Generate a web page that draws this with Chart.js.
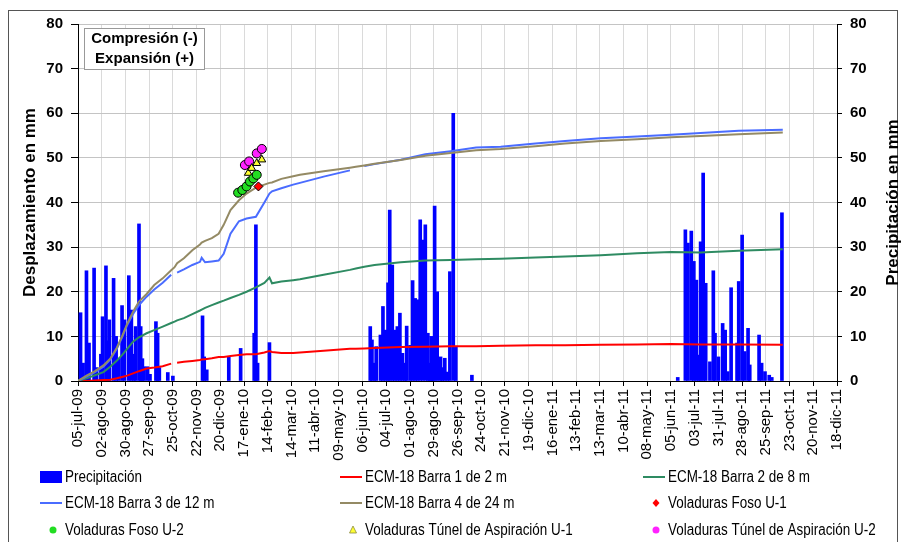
<!DOCTYPE html>
<html>
<head>
<meta charset="utf-8">
<script src="https://cdn.jsdelivr.net/npm/chart.js@4.4.0/dist/chart.umd.min.js"></script>
<style>
  html, body { margin: 0; padding: 0; background: #fff; }
  #wrap { width: 904px; height: 542px; }
</style>
</head>
<body>
<div id="wrap"><canvas id="grafico" width="904" height="542"></canvas></div>
<script>
// etiquetas del eje X (cada 28 dias)
const etiquetasX = ['05-jul-09','02-ago-09','30-ago-09','27-sep-09','25-oct-09','22-nov-09','20-dic-09',
  '17-ene-10','14-feb-10','14-mar-10','11-abr-10','09-may-10','06-jun-10','04-jul-10','01-ago-10',
  '29-ago-10','26-sep-10','24-oct-10','21-nov-10','19-dic-10','16-ene-11','13-feb-11','13-mar-11',
  '10-abr-11','08-may-11','05-jun-11','03-jul-11','31-jul-11','28-ago-11','25-sep-11','23-oct-11',
  '20-nov-11','18-dic-11'];

// precipitacion diaria (mm)
const fechasLluvia = ['2009-07-08','2009-07-11','2009-07-15','2009-07-18','2009-07-24','2009-07-27','2009-08-01',
  '2009-08-03','2009-08-07','2009-08-09','2009-08-11','2009-08-16','2009-08-19','2009-08-22','2009-08-26',
  '2009-08-29','2009-09-03','2009-09-06','2009-09-09','2009-09-11','2009-09-15','2009-09-17','2009-09-19',
  '2009-09-21','2009-09-25','2009-09-28','2009-10-05','2009-10-07','2009-10-09','2009-10-19','2009-10-25',
  '2009-11-29','2009-12-01','2009-12-04','2009-12-30','2010-01-13','2010-01-29','2010-01-31','2010-02-02',
  '2010-02-16',
  '2010-06-15','2010-06-17','2010-06-20','2010-06-22','2010-06-27','2010-06-30','2010-07-03','2010-07-06',
  '2010-07-08','2010-07-11','2010-07-14','2010-07-17','2010-07-20','2010-07-23','2010-07-26','2010-07-28',
  '2010-08-01','2010-08-04','2010-08-07','2010-08-10','2010-08-13','2010-08-16','2010-08-19','2010-08-22',
  '2010-08-24','2010-08-26','2010-08-28','2010-08-30','2010-09-02','2010-09-06','2010-09-08','2010-09-11',
  '2010-09-14','2010-09-17','2010-09-21','2010-09-24','2010-10-13',
  '2011-06-13','2011-06-22','2011-06-25','2011-06-29','2011-07-02','2011-07-05','2011-07-08','2011-07-10',
  '2011-07-13','2011-07-16','2011-07-21','2011-07-25','2011-07-27','2011-07-31','2011-08-05','2011-08-08',
  '2011-08-11','2011-08-15','2011-08-22','2011-08-24','2011-08-28','2011-08-31','2011-09-04','2011-09-06',
  '2011-09-17','2011-09-20','2011-09-24','2011-09-29','2011-10-02','2011-10-14'];
const lluvia = [15.3, 4, 24.7, 8.5, 25.3, 3, 6,
  14.4, 25.8, 9, 13.7, 23, 10, 5, 16.9,
  13.7, 23.6, 15.9, 6, 12.2, 35.2, 12.2, 5,
  3.2, 3.2, 1.5, 13.3, 10.7, 3, 1.9, 1.1,
  14.6, 5.4, 2.5, 5.4, 7.3, 10.7, 35, 4,
  8.6,
  12.2, 9.2, 4, 7.7, 10.3, 16.7, 11.4, 22,
  38.3, 26, 11.4, 12.2, 15.2, 6.2, 4, 12.3,
  8, 22.5, 18.5, 18.2, 36.1, 31.6, 35, 10.7,
  4, 10, 6, 39.2, 20, 5.4, 3, 5.1,
  2, 24.5, 60, 7.7, 1.3,
  0.8, 33.9, 30.9, 33.6, 26.8, 22.6, 5.8, 31.2,
  46.6, 21.9, 4.3, 24.7, 10.7, 5.4, 12.9, 11.4,
  2.1, 20.9, 8.5, 22.3, 32.7, 6.6, 11.8, 3.6,
  10.3, 4, 2.1, 1.3, 0.8, 37.7];

// extensometro ECM-18 (mm)
const fechasECM = ['2009-07-05','2009-07-15','2009-07-25','2009-08-04','2009-08-12','2009-08-20','2009-08-26',
  '2009-09-01','2009-09-08','2009-09-15','2009-09-24','2009-10-03','2009-10-13','2009-10-23','2009-10-27',
  '2009-10-30','2009-11-07','2009-11-17','2009-11-26','2009-11-28','2009-12-02','2009-12-10','2009-12-18',
  '2009-12-24','2010-01-01','2010-01-11','2010-01-20','2010-01-31','2010-02-10','2010-02-16','2010-02-19',
  '2010-03-02','2010-03-16','2010-03-24','2010-04-21','2010-05-22','2010-05-29','2010-06-08','2010-06-20',
  '2010-07-21','2010-08-19','2010-09-18','2010-10-18','2010-11-16','2010-12-27','2011-01-31','2011-03-14',
  '2011-04-26','2011-06-05','2011-07-10','2011-08-24','2011-10-15'];
const barra1 = [0, 0, 0.1, 0.2, 0.3, 0.6, 0.9,
  1.2, 1.7, 2.2, 2.8, 3, 3.3, 3.9, null,
  4.1, 4.3, 4.5, 4.7, 4.8, 4.9, 5.1, 5.4,
  5.4, 5.6, 5.8, 6, 6, 6.4, 6.7, 6.5,
  6.3, 6.3, 6.4, 6.8, 7.2, 7.2, 7.3, 7.4,
  7.6, 7.7, 7.8, 7.8, 7.9, 8, 8, 8.1,
  8.2, 8.3, 8.2, 8.2, 8.1];
const barra2 = [0, 0.6, 1.3, 2, 3.2, 4.6, 5.8,
  7.2, 8.8, 9.8, 10.7, 11.4, 12.2, 13, 13.3,
  13.6, 14.1, 15, 15.8, 16, 16.4, 17, 17.6,
  18, 18.6, 19.3, 20, 21, 22, 23.2, 21.9,
  22.3, 22.6, 22.8, 23.8, 24.9, 25.2, 25.6, 26,
  26.6, 27, 27.1, 27.3, 27.4, 27.7, 27.9, 28.2,
  28.6, 28.9, 28.8, 29.2, 29.5];
const barra3 = [0, 1, 2, 3.2, 4.8, 7.3, 9.8,
  12.5, 15, 17, 18.9, 20.5, 22, 23.8, null,
  24.3, 25, 26, 26.7, 27.6, 26.6, 26.8, 27,
  28.5, 33, 35.8, 36.4, 36.8, 40, 42, 42.5,
  43.2, 44, 44.4, 45.8, 47.2, null, 48.2, 48.6,
  49.6, 50.8, 51.5, 52.3, 52.5, 53.2, 53.8, 54.4,
  54.8, 55.2, 55.6, 56.1, 56.3];
const barra4 = [0, 1.2, 2.2, 3.5, 5, 7.5, 10,
  12.8, 15.5, 17.8, 19.5, 21.5, 23, 24.8, 25.5,
  26.4, 27.5, 29.3, 30.6, 31, 31.4, 32, 33,
  35, 38.3, 40.5, 42, 43.3, 44, 44.4, 44.5,
  45.3, 45.9, 46.2, 47, 47.8, 48, 48.3, 48.7,
  49.5, 50.5, 51.1, 51.7, 52, 52.6, 53.2, 53.8,
  54.2, 54.6, 54.9, 55.3, 55.7];

// voladuras
const fechasFosoU1 = ['2010-02-03'];
const fosoU1 = [43.6];
const fechasFosoU2 = ['2010-01-10','2010-01-15','2010-01-20','2010-01-24','2010-01-28','2010-02-01'];
const fosoU2 = [42.2, 42.8, 43.6, 44.7, 45.4, 46.2];
const fechasTunelU1 = ['2010-01-22','2010-01-26','2010-02-01','2010-02-07'];
const tunelU1 = [46.6, 47.7, 48.8, 49.6];
const fechasTunelU2 = ['2010-01-18','2010-01-23','2010-02-01','2010-02-07'];
const tunelU2 = [48.4, 49.2, 51, 52];

const fuente = "'Liberation Sans', Arial, sans-serif";

function dia(s) {
    const p = s.split('-');
    return (Date.UTC(+p[0], +p[1] - 1, +p[2]) - Date.UTC(2009, 6, 5)) / 86400000;
}
function serie(fechas, valores) {
    return fechas.map(function (f, i) { return { x: dia(f), y: valores[i] }; });
}

function linea(label, color, valores, orden) {
    return {
        type: 'line', label: label, data: serie(fechasECM, valores),
        borderColor: color, backgroundColor: color, borderWidth: 2,
        pointRadius: 0, spanGaps: false, yAxisID: 'y', order: orden
    };
}
function puntos(label, color, estilo, fechas, valores) {
    return {
        type: 'line', label: label, data: serie(fechas, valores), showLine: false,
        pointStyle: estilo, pointRadius: 4.5, backgroundColor: color, borderColor: '#000',
        pointBorderWidth: 1, yAxisID: 'y', order: 0
    };
}

const datasets = [
    { type: 'bar', label: 'Precipitación', data: serie(fechasLluvia, lluvia), backgroundColor: '#0000FF',
      barThickness: 3, yAxisID: 'y2', order: 10 },
    linea('ECM-18 Barra 1 de 2 m', '#FF0000', barra1, 4),
    linea('ECM-18 Barra 2 de 8 m', '#2E8B62', barra2, 3),
    linea('ECM-18 Barra 3 de 12 m', '#4A6CFF', barra3, 2),
    linea('ECM-18 Barra 4 de 24 m', '#948A64', barra4, 1),
    puntos('Voladuras Foso U-1', '#FF0000', 'rectRot', fechasFosoU1, fosoU1),
    puntos('Voladuras Foso U-2', '#22DD22', 'circle', fechasFosoU2, fosoU2),
    puntos('Voladuras Túnel de Aspiración U-1', '#FFFF33', 'triangle', fechasTunelU1, tunelU1),
    puntos('Voladuras Túnel de Aspiración U-2', '#FF22FF', 'circle', fechasTunelU2, tunelU2)
];

const extras = {
    id: 'extras',
    beforeDraw: function (chart) {
        const ctx = chart.ctx;
        ctx.save();
        ctx.fillStyle = '#fff';
        ctx.fillRect(0, 0, chart.width, chart.height);
        ctx.strokeStyle = '#555';
        ctx.lineWidth = 1;
        ctx.strokeRect(8.5, 10.5, 889, 560);
        ctx.restore();
    },
    afterDraw: function (chart) {
        const ctx = chart.ctx;
        const area = chart.chartArea;
        const cy = (area.top + area.bottom) / 2;
        ctx.save();
        // titulos de ejes
        ctx.fillStyle = '#000';
        ctx.font = 'bold 17px ' + fuente;
        ctx.textAlign = 'center';
        ctx.textBaseline = 'middle';
        ctx.save();
        ctx.translate(30, cy);
        ctx.rotate(-Math.PI / 2);
        ctx.fillText('Desplazamiento en mm', 0, 0);
        ctx.restore();
        ctx.save();
        ctx.translate(893, cy);
        ctx.rotate(-Math.PI / 2);
        ctx.fillText('Precipitación en mm', 0, 0);
        ctx.restore();

        // recuadro
        ctx.fillStyle = '#fff';
        ctx.fillRect(84, 28, 121, 42);
        ctx.strokeStyle = '#999';
        ctx.strokeRect(84.5, 28.5, 120, 41);
        ctx.fillStyle = '#000';
        ctx.font = 'bold 15px ' + fuente;
        ctx.fillText('Compresión (-)', 144.5, 39);
        ctx.fillText('Expansión (+)', 144.5, 59);

        // leyenda (texto estrecho, como Arial Narrow)
        const cols = [40, 340, 643];
        const rows = [477, 503, 530];
        ctx.font = '16px ' + fuente;
        ctx.textAlign = 'left';
        chart.data.datasets.forEach(function (ds, i) {
            const x = cols[i % 3];
            const y = rows[Math.floor(i / 3)];
            if (ds.type === 'bar') {
                ctx.fillStyle = ds.backgroundColor;
                ctx.fillRect(x, y - 6, 22, 12);
            } else if (ds.showLine === false) {
                const px = x + 13;
                ctx.fillStyle = ds.backgroundColor;
                ctx.beginPath();
                if (ds.pointStyle === 'rectRot') {
                    ctx.moveTo(px, y - 4); ctx.lineTo(px + 3.5, y); ctx.lineTo(px, y + 4); ctx.lineTo(px - 3.5, y);
                } else if (ds.pointStyle === 'triangle') {
                    ctx.moveTo(px, y - 4); ctx.lineTo(px + 3.5, y + 3); ctx.lineTo(px - 3.5, y + 3);
                } else {
                    ctx.arc(px, y, 3.5, 0, Math.PI * 2);
                }
                ctx.closePath();
                ctx.fill();
                if (ds.pointStyle === 'triangle') {
                    ctx.strokeStyle = '#8a8a40';
                    ctx.lineWidth = 0.8;
                    ctx.stroke();
                }
            } else {
                ctx.strokeStyle = ds.borderColor;
                ctx.lineWidth = 2;
                ctx.beginPath();
                ctx.moveTo(x, y);
                ctx.lineTo(x + 22, y);
                ctx.stroke();
            }
            ctx.fillStyle = '#000';
            ctx.save();
            ctx.translate(x + 25, y + 1);
            ctx.scale(0.84, 1);
            ctx.fillText(ds.label, 0, 0);
            ctx.restore();
        });
        ctx.restore();
    }
};

Chart.defaults.font.family = fuente;
Chart.defaults.color = '#000';

new Chart(document.getElementById('grafico'), {
    type: 'bar',
    data: { datasets: datasets },
    plugins: [extras],
    options: {
        responsive: false,
        animation: false,
        events: [],
        layout: { padding: { top: 24, left: 0, right: 0, bottom: 0 } },
        plugins: { legend: { display: false }, tooltip: { enabled: false } },
        scales: {
            x: {
                type: 'linear', min: 0, max: 896, offset: false,
                afterBuildTicks: function (scale) {
                    scale.ticks = etiquetasX.map(function (t, i) { return { value: i * 28 }; });
                },
                afterFit: function (scale) { scale.height = 161; },
                grid: { color: '#dadada', tickColor: '#000', tickLength: 5, offset: false },
                border: { color: '#000', width: 1 },
                ticks: {
                    autoSkip: false, minRotation: 90, maxRotation: 90, padding: 3,
                    font: { size: 15 },
                    callback: function (v, i) { return etiquetasX[i]; }
                }
            },
            y: {
                position: 'left', min: 0, max: 80,
                afterFit: function (scale) { scale.width = 78; },
                grid: { color: '#c4c4c4', tickColor: '#000', tickLength: 7 },
                border: { color: '#000', width: 1 },
                ticks: { stepSize: 10, padding: 8, font: { size: 15, weight: 'bold' } }
            },
            y2: {
                position: 'right', min: 0, max: 80,
                afterFit: function (scale) { scale.width = 67; },
                grid: { drawOnChartArea: false, tickColor: '#000', tickLength: 5 },
                border: { color: '#000', width: 1 },
                ticks: { stepSize: 10, padding: 8, font: { size: 15, weight: 'bold' } }
            }
        }
    }
});
</script>
</body>
</html>
